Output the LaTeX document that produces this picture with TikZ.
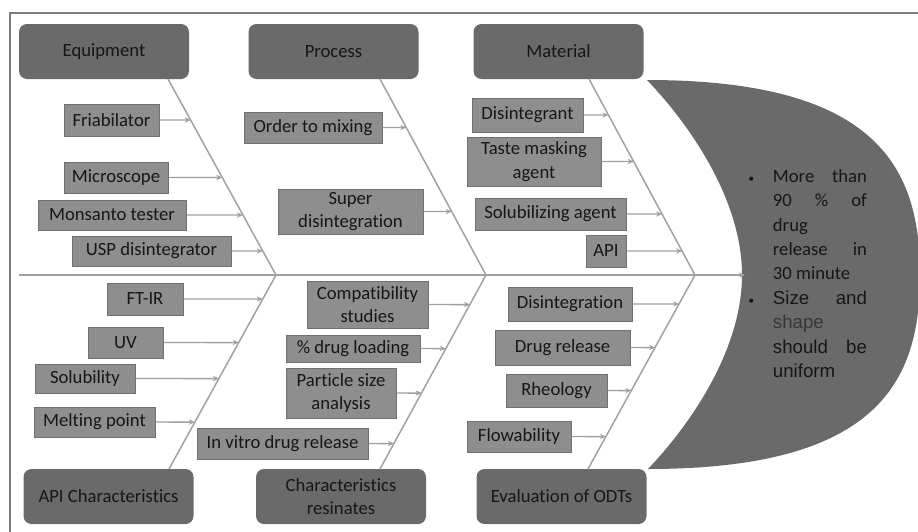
\documentclass[tikz,border=0pt]{standalone}
\usepackage{fontspec}
\setmainfont{Carlito}[Ligatures=NoCommon]
\newfontfamily\arialfont{Liberation Sans}
\usetikzlibrary{positioning,arrows.meta}

\definecolor{headgray}{RGB}{106,106,106}
\definecolor{boxgray}{RGB}{142,142,142}
\definecolor{boxline}{RGB}{112,112,112}
\definecolor{bonegray}{RGB}{160,160,160}
\definecolor{framegray}{RGB}{125,125,125}
\definecolor{textgray}{RGB}{22,22,22}
\definecolor{shapegray}{RGB}{55,55,55}

\tikzset{
  head/.style={fill=headgray, rounded corners=6pt, minimum width=127.5pt,
    minimum height=41.25pt, align=center, text=textgray},
  cause/.style={fill=boxgray, draw=boxline, line width=0.75pt, inner sep=2pt,
    align=center, text=textgray},
  bone/.style={draw=bonegray, line width=1.1pt},
  link/.style={bonegray, line width=1.1pt, -{Stealth[length=4.5pt,width=4pt]}}
}

\begin{document}
\begin{tikzpicture}[x=0.75pt, y=-0.75pt, font=\fontsize{14}{17.5}\selectfont]
    \useasboundingbox (0,0) rectangle (918,532);

    % Frame
    \draw[framegray, line width=1.5pt] (10,532) -- (10,12.5) -- (918,12.5);

    % Fish head
    \fill[headgray] (647,80) .. controls (880,80) and (920,170) .. (920,275)
      .. controls (920,380) and (880,469) .. (648,469)
      .. controls (690,425) and (742,350) .. (742,275)
      .. controls (742,200) and (690,125) .. (647,80) -- cycle;
    \node[anchor=west, inner sep=0pt, text=textgray,
      font=\fontsize{14}{18.3}\selectfont] (goal) at (748,275) {%
      \begin{tabular}{@{}p{18.5pt}@{}p{70.5pt}@{}}
        {\small\textbullet} & More\hfill than\\
        & 90\hfill\%\hfill of\\
        & drug\\
        & release\hfill in\\
        & 30 minute\\
        {\small\textbullet} & \arialfont Size\hfill and\\
        & \arialfont\textcolor{shapegray}{shape}\\
        & \arialfont should\hfill be\\
        & \arialfont uniform
      \end{tabular}};

    % Category heads
    \node[head] (equip) at (104,51.5) {Equipment};
    \node[head] (proc) at (333.5,51.5) {Process};
    \node[head] (mat) at (558.5,51.5) {Material};
    \node[head] (apich) at (108.5,496.5) {API Characteristics};
    \node[head] (resin) at (341,496.5) {Characteristics\\resinates};
    \node[head] (evalo) at (561.5,496.5) {Evaluation of ODTs};

    % Spine and bones
    \coordinate (tail) at (19,275);
    \coordinate (tip) at (745,275);
    \coordinate (j1) at (276,275);
    \coordinate (j2) at (486,275);
    \coordinate (j3) at (695,275);
    \coordinate (eqtop) at (168,79);
    \coordinate (prtop) at (380,79);
    \coordinate (matop) at (589,79);
    \coordinate (apbot) at (169,469);
    \coordinate (rebot) at (380,469);
    \coordinate (evbot) at (588,469);

    \draw[link, line width=1.4pt] (tail) -- (tip);
    \foreach \a/\b in {eqtop/j1, prtop/j2, matop/j3, apbot/j1, rebot/j2, evbot/j3}
      \draw[bone] (\a) -- (\b);

    % Causes
    \foreach \n/\cx/\cy/\w/\h/\t/\s/\e in {
      fria/111.5/120/95/32/Friabilator/eqtop/j1,
      micro/116/177.5/104/31/Microscope/eqtop/j1,
      mons/112/215/148/30/Monsanto tester/eqtop/j1,
      usp/151.5/251/159/30/USP disintegrator/eqtop/j1,
      order/313/127.5/138/31/Order to mixing/prtop/j2,
      super/350.5/211.5/145/45/{Super\\disintegration}/prtop/j2,
      disint/527.5/115/111/34/Disintegrant/matop/j3,
      taste/534/161.5/134/49/{Taste masking\\agent}/matop/j3,
      solag/550.5/214/151/32/Solubilizing agent/matop/j3,
      api/606/251/40/32/API/matop/j3,
      ftir/145/299/76/32/FT-IR/apbot/j1,
      uv/125.5/342.5/75/31/UV/apbot/j1,
      solu/85/378.5/100/29/Solubility/apbot/j1,
      melt/94.5/422/121/30/Melting point/apbot/j1,
      compat/367.5/304.5/121/47/{Compatibility\\studies}/rebot/j2,
      load/353/348.5/134/27/{\% drug loading}/rebot/j2,
      part/341/393/110/50/{Particle size\\analysis}/rebot/j2,
      vitro/282.5/443.5/171/31/In vitro drug release/rebot/j2,
      disg/570/304/124/34/Disintegration/evbot/j3,
      drel/562.5/347.5/135/35/Drug release/evbot/j3,
      rheo/556.5/390.5/101/33/Rheology/evbot/j3,
      flow/519/436.5/104/31/Flowability/evbot/j3} {
      \node[cause, minimum width=\w*0.75pt, minimum height=\h*0.75pt] (\n) at (\cx,\cy) {\t};
      \draw[link] (\n.east) -- (intersection of \n.east--\n.west and \s--\e);
    }

\end{tikzpicture}
\end{document}
